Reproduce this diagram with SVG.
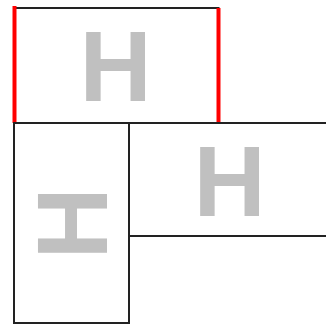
<svg xmlns="http://www.w3.org/2000/svg" width="326" height="324" viewBox="0 0 326 324">
<style>
.box{fill:#fff;stroke:#222;stroke-width:2}
.edge{stroke:#f00;stroke-width:4;fill:none}
.lbl{font-family:"Liberation Sans",Arial,sans-serif;font-weight:bold;font-size:100px;fill:#c0c0c0;text-anchor:middle}
</style>
<rect width="326" height="324" fill="#fff"/>
<g id="top">
<rect class="box" x="14.5" y="8" width="204" height="115"/>
<line class="edge" x1="14.5" y1="6" x2="14.5" y2="123"/>
<line class="edge" x1="218.5" y1="8" x2="218.5" y2="123"/>
<text class="lbl" x="115.7" y="101">H</text>
</g>
<g id="left">
<rect class="box" x="14" y="123" width="115" height="200"/>
<text class="lbl" transform="translate(107,223.5) rotate(-90)">H</text>
</g>
<g id="right">
<rect class="box" x="129" y="123" width="200" height="113"/>
<text class="lbl" x="229.7" y="215.7">H</text>
</g>
</svg>
